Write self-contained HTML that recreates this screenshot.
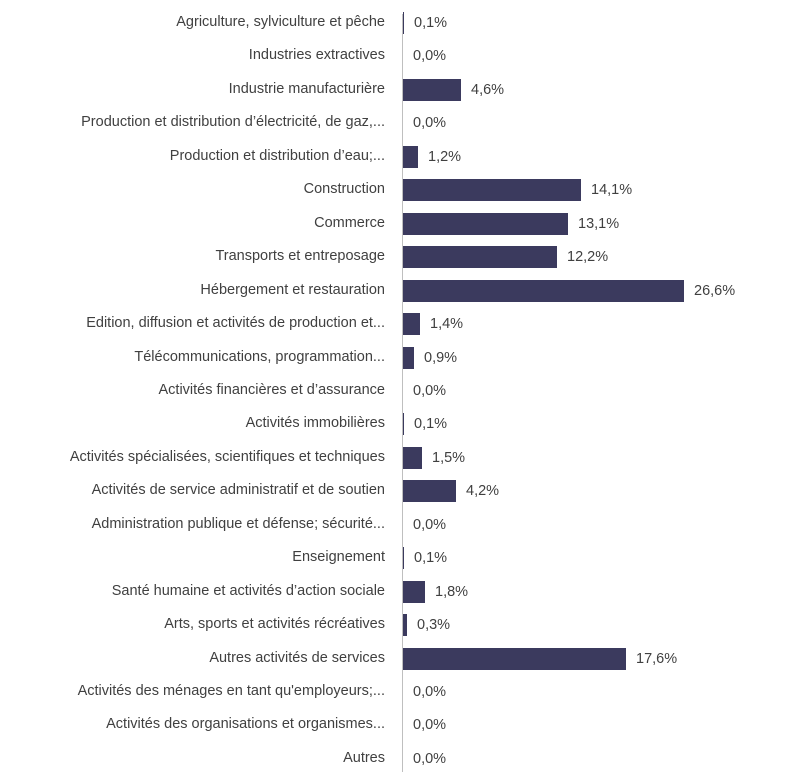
<!DOCTYPE html>
<html><head><meta charset="utf-8"><style>
body{margin:0;background:#fff;width:805px;height:781px;position:relative;overflow:hidden;font-family:"Liberation Sans",sans-serif;font-size:14.5px;color:#404040}
.l{position:absolute;right:420px;white-space:nowrap;text-align:right;line-height:18px}
.b{position:absolute;left:403px;height:22px;background:#3b3a5e}
.v{position:absolute;white-space:nowrap;line-height:18px}
.ax{position:absolute;left:402px;top:14px;width:1px;height:758px;background:#bfbfbf}
</style></head><body>
<div class="ax"></div>
<div id="c"></div>
<script>
var d=[["Agriculture, sylviculture et pêche","0,1%",404],
["Industries extractives","0,0%",403],
["Industrie manufacturière","4,6%",461],
["Production et distribution d’électricité, de gaz,...","0,0%",403],
["Production et distribution d’eau;...","1,2%",418],
["Construction","14,1%",581],
["Commerce","13,1%",568],
["Transports et entreposage","12,2%",557],
["Hébergement et restauration","26,6%",684],
["Edition, diffusion et activités de production et...","1,4%",420],
["Télécommunications, programmation...","0,9%",414],
["Activités financières et d’assurance","0,0%",403],
["Activités immobilières","0,1%",404],
["Activités spécialisées, scientifiques et techniques","1,5%",422],
["Activités de service administratif et de soutien","4,2%",456],
["Administration publique et défense; sécurité...","0,0%",403],
["Enseignement","0,1%",404],
["Santé humaine et activités d’action sociale","1,8%",425],
["Arts, sports et activités récréatives","0,3%",407],
["Autres activités de services","17,6%",626],
["Activités des ménages en tant qu'employeurs;...","0,0%",403],
["Activités des organisations et organismes...","0,0%",403],
["Autres","0,0%",403]];
var h="";
d.forEach(function(r,i){var y=23+i*33.45;
h+='<div class="l" style="top:'+(y-10)+'px">'+r[0]+'</div>';
if(r[2]>403)h+='<div class="b" style="top:'+(y-11)+'px;width:'+(r[2]-403)+'px"></div>';
h+='<div class="v" style="top:'+(y-9)+'px;left:'+(r[2]+10)+'px">'+r[1]+'</div>';});
document.getElementById("c").innerHTML=h;
</script>
</body></html>
